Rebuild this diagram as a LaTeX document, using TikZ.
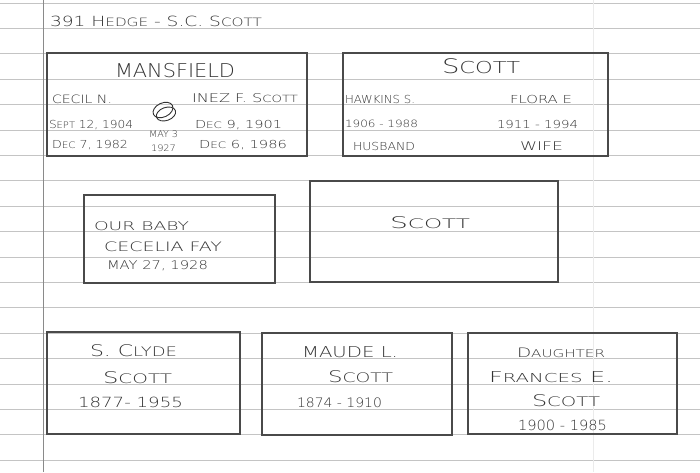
\documentclass[tikz,border=0pt]{standalone}
\usepackage{fontspec}
\usepackage{graphicx}
\newfontfamily\hand{DejaVuSans-ExtraLight.ttf}
\makeatletter
\newcommand\sm[1]{{\fontsize{0.82\dimexpr\f@size pt\relax}{0pt}\selectfont #1}}
\makeatother
\newcommand\hw[3]{\resizebox{#1pt}{\height}{\fontsize{#2pt}{#2pt}\selectfont\hand #3}}
\definecolor{pencil}{HTML}{333333}
\definecolor{boxcol}{HTML}{4A4A4A}
\definecolor{rulecol}{HTML}{C4C4C4}
\definecolor{margcol}{HTML}{8A8A8A}
\begin{document}
\begin{tikzpicture}[x=1pt,y=-1pt,
  txt/.style={anchor=base west, inner sep=0pt, outer sep=0pt, text=pencil},
  rule/.style={draw=rulecol, line width=0.8pt},
  box/.style={draw=boxcol, line width=1.2pt, inner sep=0pt, outer sep=0pt}]
\useasboundingbox (0,0) rectangle (700,472);
\fill[white] (0,0) rectangle (700,472);
\foreach \k in {0,...,18} \draw[rule] (0,{3+25.4*\k}) -- (700,{3+25.4*\k});
\draw[draw=margcol, line width=0.9pt] (43,0) -- (43,472);
\draw[draw=black!8, line width=0.8pt] (593,0) -- (593,472);
% boxes
\node[box, minimum width=260pt, minimum height=103pt] (b1) at (177,104.5) {};
\node[box, minimum width=265pt, minimum height=103pt] (b2) at (475.5,104.5) {};
\node[box, minimum width=191pt, minimum height=88pt] (b3) at (179.5,239) {};
\node[box, minimum width=248pt, minimum height=101pt] (b4) at (434,231.5) {};
\node[box, minimum width=193pt, minimum height=102pt] (b5) at (143.5,383) {};
\node[box, minimum width=190pt, minimum height=102pt] (b6) at (357,384) {};
\node[box, minimum width=209pt, minimum height=101pt] (b7) at (572.5,383.5) {};
% title
\node[txt] (t0) at (50,26) {\hw{212}{14}{391 H\sm{EDGE} - S.C. S\sm{COTT}}};
% box 1
\node[txt] (t1) at (115,77) {\hw{120}{19}{MANSFIELD}};
\node[txt] (t2) at (52,103) {\hw{60}{11.5}{CECIL N.}};
\node[txt] (t3) at (192,102) {\hw{106}{12}{INEZ F. S\sm{COTT}}};
\node[txt] (t4) at (49,128) {\hw{84}{11}{S\sm{EPT} 12, 1904}};
\node[txt] (t5) at (195,128) {\hw{87}{11}{D\sm{EC} 9, 1901}};
\node[txt] (t6) at (52,148) {\hw{76}{11}{D\sm{EC} 7, 1982}};
\node[txt] (t7) at (199,148) {\hw{88}{11}{D\sm{EC} 6, 1986}};
\node[txt] (t8) at (149,137) {\hw{29}{9}{MAY 3}};
\node[txt] (t9) at (151,151) {\hw{25}{9}{1927}};
\draw[pencil, line width=0.9pt, rotate around={25:(163,110)}] (163,110) ellipse [x radius=10.5, y radius=7];
\draw[pencil, line width=0.9pt, rotate around={20:(166,114)}] (166,114) ellipse [x radius=10, y radius=6.5];
% box 2
\node[txt] (t10) at (442,73) {\hw{78}{20}{S\sm{COTT}}};
\node[txt] (t11) at (345,103) {\hw{70}{11}{HAWKINS S.}};
\node[txt] (t12) at (510,103) {\hw{62}{11}{FLORA E}};
\node[txt] (t13) at (345,127) {\hw{73}{10}{1906 - 1988}};
\node[txt] (t14) at (497,128) {\hw{81}{11}{1911 - 1994}};
\node[txt] (t15) at (353,150) {\hw{62}{11}{HUSBAND}};
\node[txt] (t16) at (520,150) {\hw{43}{12}{WIFE}};
% box 3
\node[txt] (t17) at (94,230) {\hw{95}{12}{OUR BABY}};
\node[txt] (t18) at (104,251) {\hw{118}{13}{CECELIA FAY}};
\node[txt] (t19) at (107,269) {\hw{101}{12}{MAY 27, 1928}};
% box 4
\node[txt] (t20) at (390,228) {\hw{80}{16}{S\sm{COTT}}};
% box 5
\node[txt] (t21) at (90,356) {\hw{87}{16}{S. C\sm{LYDE}}};
\node[txt] (t22) at (103,383) {\hw{69}{16}{S\sm{COTT}}};
\node[txt] (t23) at (78,407) {\hw{105}{14}{1877- 1955}};
% box 6
\node[txt] (t24) at (302,357) {\hw{96}{15}{MAUDE L.}};
\node[txt] (t25) at (328,382) {\hw{65}{16}{S\sm{COTT}}};
\node[txt] (t26) at (297,407) {\hw{85}{13}{1874 - 1910}};
% box 7
\node[txt] (t27) at (517,357) {\hw{88}{13}{D\sm{AUGHTER}}};
\node[txt] (t28) at (489,382) {\hw{124}{15}{F\sm{RANCES} E.}};
\node[txt] (t29) at (532,406) {\hw{68}{16}{S\sm{COTT}}};
\node[txt] (t30) at (518,430) {\hw{89}{14}{1900 - 1985}};
\end{tikzpicture}
\end{document}
